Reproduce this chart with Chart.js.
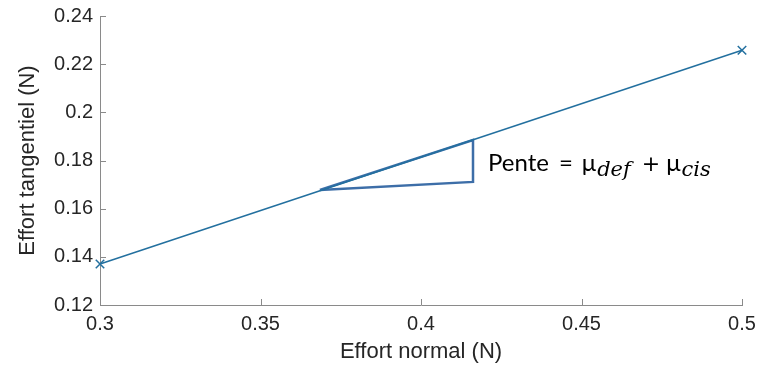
<!DOCTYPE html>
<html>
<head>
<meta charset="utf-8">
<script src="https://cdn.jsdelivr.net/npm/chart.js@4"></script>
<style>
html,body{margin:0;padding:0;background:#fff;}
canvas{display:block;}
</style>
</head>
<body>
<canvas id="c" width="759" height="367"></canvas>
<script>
// ---- data ----
const effortNormal = [0.3, 0.5];
const effortTangentiel = [0.137, 0.2258];
const triangleX = [0.3685, 0.4162, 0.4162, 0.3685];
const triangleY = [0.1678, 0.1885, 0.1711, 0.1678];
const xTickValues = [0.3, 0.35, 0.4, 0.45, 0.5];
const xTickLabels = ['0.3', '0.35', '0.4', '0.45', '0.5'];
const yTickValues = [0.12, 0.14, 0.16, 0.18, 0.2, 0.22, 0.24];
const yTickLabels = ['0.12', '0.14', '0.16', '0.18', '0.2', '0.22', '0.24'];
const xTitle = 'Effort normal (N)';
const yTitle = 'Effort tangentiel (N)';
const annotationAnchor = [0.4162, 0.1757];
const annotationParts = [
  {t: 'Pente', kind: 'text', gap: 0},
  {t: '=', kind: 'text', gap: 10},
  {t: 'μ', kind: 'text', gap: 9},
  {t: 'def', kind: 'sub', gap: 1},
  {t: '+', kind: 'op', gap: 11},
  {t: 'μ', kind: 'text', gap: 6},
  {t: 'cis', kind: 'sub', gap: 1}
];

const AXIS_COLOR = '#8a8a8a';
const TEXT_COLOR = '#262626';

const inwardTicks = {
  id: 'inwardTicks',
  afterDatasetsDraw(chart) {
    const ctx = chart.ctx;
    const xs = chart.scales.x, ys = chart.scales.y;
    const a = chart.chartArea;
    ctx.save();
    ctx.strokeStyle = AXIS_COLOR;
    ctx.lineWidth = 1;
    ctx.beginPath();
    xTickValues.forEach(v => {
      const px = Math.round(xs.getPixelForValue(v)) + 0.5;
      ctx.moveTo(px, a.bottom);
      ctx.lineTo(px, a.bottom - 6);
    });
    yTickValues.forEach(v => {
      const py = Math.round(ys.getPixelForValue(v)) + 0.5;
      ctx.moveTo(a.left, py);
      ctx.lineTo(a.left + 6, py);
    });
    ctx.stroke();
    ctx.restore();
  }
};

const slopeLabel = {
  id: 'slopeLabel',
  afterDatasetsDraw(chart) {
    const ctx = chart.ctx;
    const xs = chart.scales.x, ys = chart.scales.y;
    let x = xs.getPixelForValue(annotationAnchor[0]) + 15;
    const base = ys.getPixelForValue(annotationAnchor[1]);
    ctx.save();
    ctx.fillStyle = '#000';
    ctx.textBaseline = 'alphabetic';
    ctx.textAlign = 'left';
    annotationParts.forEach(p => {
      x += p.gap;
      let dy = 0;
      if (p.kind === 'sub') {
        ctx.font = 'italic 21px "DejaVu Serif", "Liberation Serif", serif';
        dy = 5;
      } else if (p.kind === 'op') {
        ctx.font = '22px "DejaVu Sans", sans-serif';
        dy = 0;
      } else {
        ctx.font = '24px Lato, "Open Sans", sans-serif';
      }
      ctx.fillText(p.t, x, base + dy);
      x += ctx.measureText(p.t).width;
    });
    ctx.restore();
  }
};

new Chart(document.getElementById('c'), {
  type: 'scatter',
  data: {
    datasets: [
      {
        data: effortNormal.map((x, i) => ({x, y: effortTangentiel[i]})),
        showLine: true,
        borderColor: '#23709f',
        backgroundColor: '#23709f',
        borderWidth: 1.5,
        pointStyle: 'crossRot',
        pointRadius: 6,
        pointBorderWidth: 1.5,
        pointBorderColor: '#23709f',
        clip: false
      },
      {
        data: triangleX.map((x, i) => ({x, y: triangleY[i]})),
        showLine: true,
        borderColor: '#3d6ea8',
        borderWidth: 2.5,
        pointRadius: 0,
        borderJoinStyle: 'miter',
        clip: false
      }
    ]
  },
  options: {
    responsive: false,
    animation: false,
    devicePixelRatio: 1,
    layout: {padding: {left: 0, right: 17, top: 16, bottom: 0}},
    plugins: {legend: {display: false}, tooltip: {enabled: false}},
    scales: {
      x: {
        type: 'linear',
        min: 0.3, max: 0.5,
        afterBuildTicks: s => { s.ticks = xTickValues.map(v => ({value: v})); },
        afterFit: s => { s.height = 62; s.paddingLeft = 0; s.paddingRight = 0; },
        grid: {display: false, drawTicks: false},
        border: {display: true, color: AXIS_COLOR, width: 1},
        ticks: {
          padding: 7,
          color: TEXT_COLOR,
          font: {family: '"Liberation Sans", Arial, sans-serif', size: 20},
          maxRotation: 0,
          callback: (v, i) => xTickLabels[i]
        },
        title: {
          display: true, text: xTitle, color: TEXT_COLOR,
          font: {family: '"Liberation Sans", Arial, sans-serif', size: 22},
          padding: {top: 0, bottom: 2}
        }
      },
      y: {
        type: 'linear',
        min: 0.12, max: 0.24,
        afterBuildTicks: s => { s.ticks = yTickValues.map(v => ({value: v})); },
        afterFit: s => { s.width = 100; s.paddingTop = 0; s.paddingBottom = 0; },
        grid: {display: false, drawTicks: false},
        border: {display: true, color: AXIS_COLOR, width: 1},
        ticks: {
          padding: 7,
          color: TEXT_COLOR,
          font: {family: '"Liberation Sans", Arial, sans-serif', size: 20},
          callback: (v, i) => yTickLabels[i]
        },
        title: {
          display: true, text: yTitle, color: TEXT_COLOR,
          font: {family: '"Liberation Sans", Arial, sans-serif', size: 22},
          padding: {top: 15, bottom: 0}
        }
      }
    }
  },
  plugins: [inwardTicks, slopeLabel]
});
</script>
</body>
</html>
